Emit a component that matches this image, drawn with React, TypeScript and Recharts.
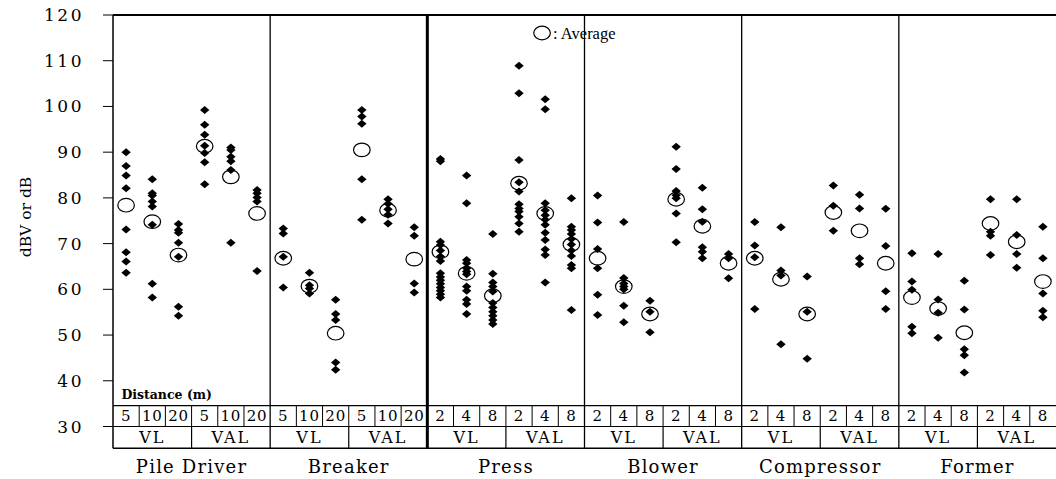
import React from "react";
import { ScatterChart, Scatter, XAxis, YAxis, ReferenceLine, ReferenceDot } from "recharts";

// machines, groups and distance labels
const machines = ["Pile Driver", "Breaker", "Press", "Blower", "Compressor", "Former"];
const groups = ["VL", "VAL"];
const distances = [
  ["5", "10", "20"],
  ["5", "10", "20"],
  ["2", "4", "8"],
  ["2", "4", "8"],
  ["2", "4", "8"],
  ["2", "4", "8"],
];

// measured values, one list per column (machine x group x distance)
const measured: number[][] = [
  // Pile Driver VL
  [90, 87, 84.9, 82.1, 73.1, 68.1, 66.1, 63.6],
  [84.1, 81, 80.5, 79.2, 78.1, 74.1, 61.2, 58.2],
  [74.3, 73, 72.4, 70.2, 67.1, 56.2, 54.2],
  // Pile Driver VAL
  [99.2, 96, 93.8, 91.4, 89.8, 87.8, 83],
  [91, 90.5, 89, 88, 86.1, 70.2],
  [81.7, 81, 80.1, 79.2, 64],
  // Breaker VL
  [73.3, 72.2, 67.1, 60.4],
  [63.6, 60.9, 60.2, 59.1],
  [57.7, 54.6, 53.3, 44, 42.4],
  // Breaker VAL
  [99.2, 97.8, 96.2, 84.1, 75.2],
  [79.7, 78.7, 77.5, 76.3, 74.4],
  [73.6, 71.7, 61.3, 59.3],
  // Press VL
  [88.5, 88, 70.4, 69.7, 68.5, 67.2, 66.2, 63.5, 62.7, 62, 61.2, 60.4, 59.7, 58.9, 58.2],
  [84.9, 78.8, 66.4, 65.7, 64.6, 63.9, 63.3, 60.6, 59.7, 57.7, 56.8, 54.6],
  [72.1, 63.4, 61.5, 60.6, 59.5, 57, 56, 55.1, 54.2, 53.3, 52.4],
  // Press VAL
  [108.9, 102.9, 88.3, 83.4, 81.4, 78.6, 77.7, 77, 75.9, 74.4, 72.6],
  [101.6, 99.4, 78.8, 77.3, 76.2, 75.2, 74.1, 72.4, 70.8, 68.7, 67.5, 61.5],
  [79.9, 73.7, 73, 72.1, 71, 69.8, 68.5, 67.3, 65.3, 64.6, 55.5],
  // Blower VL
  [80.5, 74.6, 68.8, 64.6, 58.8, 54.4],
  [74.7, 62.5, 61.3, 60.6, 60, 56.4, 52.8],
  [57.5, 55.1, 50.6],
  // Blower VAL
  [91.2, 86.3, 81.5, 80.6, 79.9, 76.6, 70.3],
  [82.2, 77.5, 74.8, 69.2, 68.2, 66.8],
  [67.7, 66.8, 62.4],
  // Compressor VL
  [74.7, 69.6, 67, 55.7],
  [73.6, 64.1, 63, 48],
  [62.8, 55.1, 44.8],
  // Compressor VAL
  [82.7, 78.3, 72.8],
  [80.7, 77.7, 66.8, 65.5],
  [77.6, 69.5, 59.6, 55.7],
  // Former VL
  [67.9, 61.7, 59.9, 51.8, 50.4],
  [67.7, 57.8, 54.9, 49.4],
  [61.9, 55.6, 46.9, 45.6, 41.8],
  // Former VAL
  [79.7, 72.6, 71.7, 67.5],
  [79.7, 71.9, 67.7, 64.7],
  [73.7, 66.8, 59.1, 55.3, 53.9],
];

const averages = [
  78.4, 74.8, 67.5, 91.3, 84.6, 76.6,
  66.8, 60.7, 50.4, 90.5, 77.3, 66.6,
  68.2, 63.5, 58.6, 83.2, 76.6, 69.8,
  66.8, 60.6, 54.6, 79.7, 73.8, 65.7,
  66.8, 62.2, 54.6, 76.8, 72.8, 65.7,
  58.2, 55.8, 50.5, 74.4, 70.4, 61.7,
];

const yTicks = [30, 40, 50, 60, 70, 80, 90, 100, 110, 120];

const Y_MIN = 25.23;
const ROW_TOP = 34.55;
const COLS = machines.length * 6;

const pointData = measured.flatMap((vals, i) => vals.map((v) => ({ x: i + 0.5, y: v })));
const avgData = averages.map((v, i) => ({ x: i + 0.5, y: v }));
const distLabels = distances.flatMap((d, m) =>
  [...d, ...d].map((t, j) => ({ x: m * 6 + j + 0.5, y: (30 + ROW_TOP) / 2, label: t }))
);
const groupLabels = machines.flatMap((_, m) =>
  groups.map((g, j) => ({ x: m * 6 + j * 3 + 1.5, y: (30 + Y_MIN) / 2, label: g }))
);

const serif = "DejaVu Serif";

const Diamond = (p: any) => (
  <polygon
    points={`${p.cx},${p.cy - 4} ${p.cx + 4.7},${p.cy} ${p.cx},${p.cy + 4} ${p.cx - 4.7},${p.cy}`}
    fill="#000"
  />
);

const Ring = (p: any) => (
  <ellipse cx={p.cx} cy={p.cy} rx={8.3} ry={6.8} fill="none" stroke="#000" strokeWidth={1.2} />
);

const cellText = (size: number, spacing: number) => (p: any) => (
  <text
    x={p.cx}
    y={p.cy}
    textAnchor="middle"
    dominantBaseline="central"
    fontFamily={serif}
    fontSize={size}
    letterSpacing={spacing}
    fill="#000"
  >
    {p.payload.label}
  </text>
);

const MachineTick = (p: any) => (
  <text x={p.x} y={p.y + 23} textAnchor="middle" fontFamily={serif} fontSize={18} fill="#000" letterSpacing={1.2}>
    {machines[(p.payload.value - 3) / 6]}
  </text>
);

export default function App() {
  const innerLines: number[] = [];
  for (let i = 1; i < COLS; i++) innerLines.push(i);

  return (
    <div style={{ position: "absolute", left: 0, top: 0, background: "#fff" }}>
      <ScatterChart width={1056} height={479} margin={{ top: 15, right: 0, bottom: 0, left: 0 }}>
        <XAxis
          type="number"
          dataKey="x"
          domain={[0, COLS]}
          ticks={[3, 9, 15, 21, 27, 33]}
          height={30.7}
          tickLine={false}
          tickSize={0}
          axisLine={{ stroke: "#000", strokeWidth: 1.5 }}
          tick={MachineTick}
          interval={0}
        />
        <YAxis
          type="number"
          dataKey="y"
          domain={[Y_MIN, 120]}
          ticks={yTicks}
          width={113}
          tickSize={10}
          tickMargin={19}
          axisLine={{ stroke: "#000", strokeWidth: 1.5 }}
          tickLine={{ stroke: "#000" }}
          tick={{ fill: "#000", fontSize: 17, fontFamily: serif, letterSpacing: 2.5 }}
          label={{
            content: () => (
              <text transform="translate(31,217) rotate(-90)" textAnchor="middle" fontFamily={serif} fontSize={15.5} fill="#000">
                dBV or dB
              </text>
            ),
          }}
        />

        <ReferenceLine y={120} stroke="#000" strokeWidth={2} />
        <ReferenceLine y={ROW_TOP} stroke="#000" strokeWidth={1.2} />
        <ReferenceLine y={30} stroke="#000" strokeWidth={1.2} />
        {[6, 18, 24, 30].map((x) => (
          <ReferenceLine key={"m" + x} x={x} stroke="#000" strokeWidth={1.3} />
        ))}
        <ReferenceLine x={12} stroke="#000" strokeWidth={3} />
        {innerLines
          .filter((i) => i % 6 !== 0)
          .map((i) => (
            <ReferenceLine key={"d" + i} segment={[{ x: i, y: 30 }, { x: i, y: ROW_TOP }]} stroke="#000" strokeWidth={1} />
          ))}
        {innerLines
          .filter((i) => i % 3 === 0 && i % 6 !== 0)
          .map((i) => (
            <ReferenceLine key={"g" + i} segment={[{ x: i, y: Y_MIN }, { x: i, y: 30 }]} stroke="#000" strokeWidth={1.2} />
          ))}

        <ReferenceDot
          x={0.32}
          y={37.1}
          r={0}
          shape={(p: any) => (
            <text x={p.cx} y={p.cy} dominantBaseline="central" fontFamily={serif} fontWeight="bold" fontSize={12.5} fill="#000">
              Distance (m)
            </text>
          )}
        />
        <ReferenceDot
          x={16.38}
          y={116.06}
          r={0}
          shape={(p: any) => (
            <g>
              <ellipse cx={p.cx} cy={p.cy} rx={8.3} ry={6.8} fill="none" stroke="#000" strokeWidth={1.2} />
              <text x={p.cx + 11} y={p.cy} dominantBaseline="central" fontFamily="Liberation Serif" fontSize={16.5} fill="#000">
                : Average
              </text>
            </g>
          )}
        />

        <Scatter data={distLabels} shape={cellText(15, 0.8)} isAnimationActive={false} />
        <Scatter data={groupLabels} shape={cellText(16, 2)} isAnimationActive={false} />
        <Scatter data={avgData} shape={Ring} isAnimationActive={false} />
        <Scatter data={pointData} shape={Diamond} isAnimationActive={false} />
      </ScatterChart>
    </div>
  );
}
